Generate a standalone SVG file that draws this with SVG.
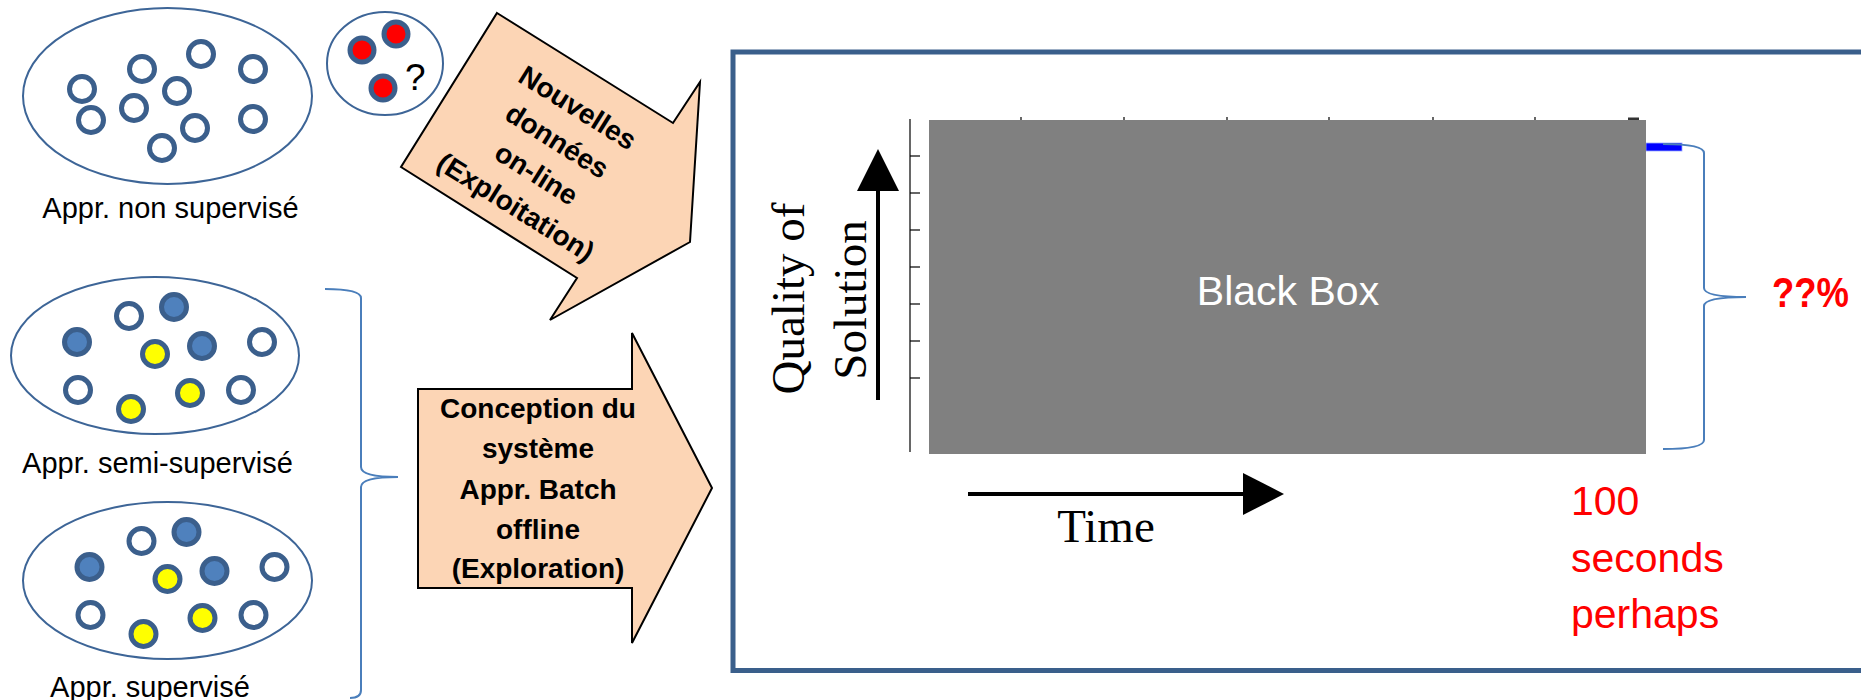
<svg xmlns="http://www.w3.org/2000/svg" width="1861" height="700" viewBox="0 0 1861 700">
<style>
.ell{fill:#fff;stroke:#3d6597;stroke-width:2}
.ring{fill:#fff;stroke:#3b5f8c;stroke-width:5}
.blue{fill:#4f81bd;stroke:#3b5f8c;stroke-width:5}
.yel{fill:#ffff00;stroke:#3b5f8c;stroke-width:5}
.red{fill:#ff0000;stroke:#3b5f8c;stroke-width:5}
.lbl{font-family:"Liberation Sans",Arial,sans-serif;font-size:29px;fill:#000;text-anchor:middle}
.arrow{fill:#fcd5b5;stroke:#000;stroke-width:2;stroke-linejoin:miter}
.atxt{font-family:"Liberation Sans",Arial,sans-serif;font-size:28px;font-weight:bold;fill:#000;text-anchor:middle}
.brace{fill:none;stroke:#4a7ebb;stroke-width:2}
.serif{font-family:"Liberation Serif","Times New Roman",serif;font-size:47px;fill:#000;text-anchor:middle}
.tick{stroke:#000;stroke-width:1.2}
.redtxt{font-family:"Liberation Sans",Arial,sans-serif;fill:#ff0000}
</style>
<rect width="1861" height="700" fill="#fff"/>

<g id="unsupervised">
<ellipse class="ell" cx="167.5" cy="96" rx="144.5" ry="88"/>
<circle class="ring" cx="201" cy="54" r="12.5"/>
<circle class="ring" cx="142" cy="69" r="12.5"/>
<circle class="ring" cx="253" cy="69" r="12.5"/>
<circle class="ring" cx="82" cy="89" r="12.5"/>
<circle class="ring" cx="177" cy="91" r="12.5"/>
<circle class="ring" cx="134" cy="108" r="12.5"/>
<circle class="ring" cx="91" cy="120" r="12.5"/>
<circle class="ring" cx="253" cy="119" r="12.5"/>
<circle class="ring" cx="195" cy="128" r="12.5"/>
<circle class="ring" cx="162" cy="148" r="12.5"/>
<text class="lbl" x="170.5" y="218">Appr. non supervisé</text>
</g>

<g id="new-data">
<ellipse class="ell" cx="385" cy="63.5" rx="58" ry="51.5"/>
<circle class="red" cx="362" cy="50" r="12"/>
<circle class="red" cx="396" cy="34" r="12"/>
<circle class="red" cx="383" cy="88" r="12"/>
<text x="405" y="90" font-family="Liberation Sans,Arial,sans-serif" font-size="37" fill="#000">?</text>
</g>

<g id="semi-supervised">
<ellipse class="ell" cx="155" cy="355.5" rx="144" ry="78.5"/>
<circle class="ring" cx="129" cy="316" r="12.5"/>
<circle class="blue" cx="174" cy="307" r="12.5"/>
<circle class="blue" cx="77" cy="342" r="12.5"/>
<circle class="yel" cx="155" cy="354" r="12.5"/>
<circle class="blue" cx="202" cy="346" r="12.5"/>
<circle class="ring" cx="262" cy="342" r="12.5"/>
<circle class="ring" cx="78" cy="390" r="12.5"/>
<circle class="yel" cx="190" cy="393" r="12.5"/>
<circle class="ring" cx="241" cy="390" r="12.5"/>
<circle class="yel" cx="131" cy="409" r="12.5"/>
<text class="lbl" x="157.5" y="473">Appr. semi-supervisé</text>
</g>

<g id="supervised">
<ellipse class="ell" cx="167.5" cy="580.5" rx="144.5" ry="78.5"/>
<g transform="translate(12.5,225)">
<circle class="ring" cx="129" cy="316" r="12.5"/>
<circle class="blue" cx="174" cy="307" r="12.5"/>
<circle class="blue" cx="77" cy="342" r="12.5"/>
<circle class="yel" cx="155" cy="354" r="12.5"/>
<circle class="blue" cx="202" cy="346" r="12.5"/>
<circle class="ring" cx="262" cy="342" r="12.5"/>
<circle class="ring" cx="78" cy="390" r="12.5"/>
<circle class="yel" cx="190" cy="393" r="12.5"/>
<circle class="ring" cx="241" cy="390" r="12.5"/>
<circle class="yel" cx="131" cy="409" r="12.5"/>
</g>
<text class="lbl" x="150" y="697">Appr. supervisé</text>
</g>

<g id="arrow-exploitation">
<polygon class="arrow" points="497,13 673,123 700,82 690,242 550,320 577,278 401,167"/>
<g transform="translate(547,157) rotate(32)">
<text class="atxt" x="0" y="-48.5">Nouvelles</text>
<text class="atxt" x="0" y="-9.5">données</text>
<text class="atxt" x="0" y="29.5">on-line</text>
<text class="atxt" x="0" y="68.5">(Exploitation)</text>
</g>
</g>

<g id="arrow-exploration">
<polygon class="arrow" points="418,389 632,389 632,333 712,488 632,643 632,588 418,588"/>
<text class="atxt" x="538" y="418">Conception du</text>
<text class="atxt" x="538" y="458">système</text>
<text class="atxt" x="538" y="499">Appr. Batch</text>
<text class="atxt" x="538" y="539">offline</text>
<text class="atxt" x="538" y="578">(Exploration)</text>
</g>

<g id="frame">
<rect x="733" y="52" width="1140" height="618.5" fill="none" stroke="#3a5f8b" stroke-width="5"/>
</g>

<g id="chart">
<line class="tick" x1="910" y1="119" x2="910" y2="452"/>
<line class="tick" x1="910" y1="156" x2="920" y2="156"/>
<line class="tick" x1="910" y1="193" x2="920" y2="193"/>
<line class="tick" x1="910" y1="230" x2="920" y2="230"/>
<line class="tick" x1="910" y1="267" x2="920" y2="267"/>
<line class="tick" x1="910" y1="304" x2="920" y2="304"/>
<line class="tick" x1="910" y1="341" x2="920" y2="341"/>
<line class="tick" x1="910" y1="378" x2="920" y2="378"/>
<line class="tick" x1="1021" y1="117" x2="1021" y2="121"/>
<line class="tick" x1="1124" y1="117" x2="1124" y2="121"/>
<line class="tick" x1="1227" y1="117" x2="1227" y2="121"/>
<line class="tick" x1="1329" y1="117" x2="1329" y2="121"/>
<line class="tick" x1="1433" y1="117" x2="1433" y2="121"/>
<line class="tick" x1="1535" y1="117" x2="1535" y2="121"/>
<rect x="1628" y="117.5" width="11" height="3" fill="#333"/>
<rect x="1646" y="143" width="36" height="8" fill="#0000ff" stroke="#99aaff" stroke-width="0.8"/>
<rect x="929" y="120" width="717" height="334" fill="#808080"/>
<text x="1288" y="305" font-family="Liberation Sans,Arial,sans-serif" font-size="41" fill="#fff" text-anchor="middle">Black Box</text>
</g>

<g id="y-axis">
<line x1="878" y1="400" x2="878" y2="188" stroke="#000" stroke-width="4"/>
<polygon points="878,149 899,191 857,191" fill="#000"/>
<text class="serif" transform="translate(804,298.5) rotate(-90)">Quality of</text>
<text class="serif" transform="translate(866,300) rotate(-90)">Solution</text>
</g>

<g id="x-axis">
<line x1="968" y1="494" x2="1246" y2="494" stroke="#000" stroke-width="4"/>
<polygon points="1284,494 1243,473 1243,515" fill="#000"/>
<text class="serif" x="1106" y="542" font-size="47">Time</text>
</g>

<g id="annotations">
<text class="redtxt" x="1772" y="307" font-size="42" font-weight="bold" textLength="77" lengthAdjust="spacingAndGlyphs">??%</text>
<text class="redtxt" x="1571" y="515" font-size="41">100</text>
<text class="redtxt" x="1571" y="572" font-size="41">seconds</text>
<text class="redtxt" x="1571" y="628" font-size="41">perhaps</text>
</g>

<g id="connectors">
<path class="brace" d="M325,289 Q361,289 361,298 L361,467 Q361,477 398,477 Q361,477 361,487 L361,690 Q361,698 350,698"/>
<path class="brace" d="M1663,144 Q1704,144 1704,153 L1704,288 Q1704,297 1746,297 Q1704,297 1704,306 L1704,440 Q1704,449 1663,449"/>
</g>
</svg>
